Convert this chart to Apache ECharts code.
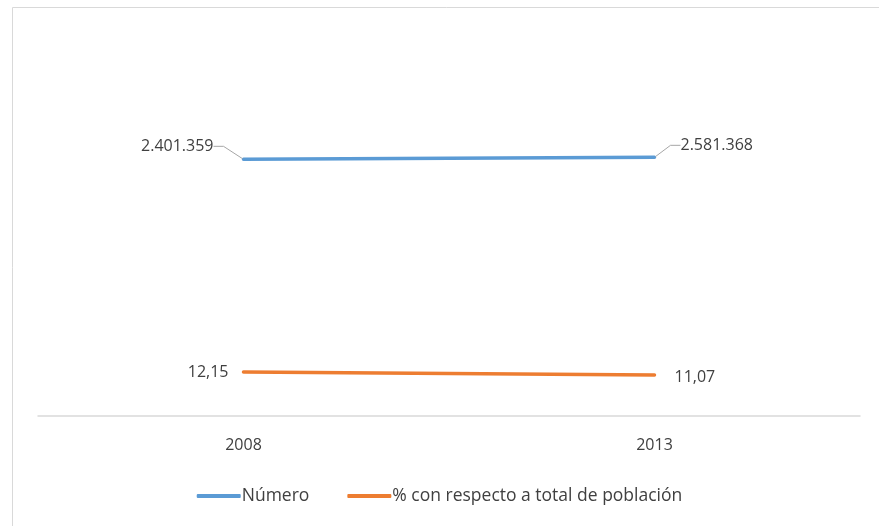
<!DOCTYPE html>
<html>
<head>
<meta charset="utf-8">
<script src="https://cdn.jsdelivr.net/npm/echarts@6/dist/echarts.min.js"></script>
<style>
  html, body { margin: 0; padding: 0; background: #fff; }
  #chart { width: 879px; height: 526px; }
</style>
</head>
<body>
<div id="chart"></div>
<script>
// datos
var years = ['2008', '2013'];
var numero = [2401359, 2581368];
var porcentaje = [12.15, 11.07];

// formato español: miles con punto, decimales con coma
function fmtMiles(v) {
  return String(Math.round(v)).replace(/\B(?=(\d{3})+(?!\d))/g, '.');
}
function fmtDec(v) {
  return v.toFixed(2).replace('.', ',');
}

var txt = '#404040';
var font = 'Open Sans';

var chart = echarts.init(document.getElementById('chart'));

var option = {
  animation: false,
  textStyle: { fontFamily: font, color: txt },
  graphic: [{
    type: 'rect',
    shape: { x: 12.5, y: 7.5, width: 900, height: 600 },
    style: { fill: 'none', stroke: '#d9d9d9', lineWidth: 1 },
    silent: true
  }],
  grid: { left: 38, right: 19, top: 30, bottom: 110 },
  legend: {
    bottom: 16,
    left: 'center',
    itemWidth: 44,
    itemHeight: 4,
    itemGap: 38,
    icon: 'roundRect',
    textStyle: { fontFamily: font, fontSize: 17.5, color: txt, padding: [0, 0, 0, -4] },
    data: ['Número', '% con respecto a total de población']
  },
  xAxis: {
    type: 'category',
    data: years,
    boundaryGap: true,
    axisLine: { onZero: false, lineStyle: { color: '#d9d9d9', width: 1.5 } },
    axisTick: { show: false },
    axisLabel: { color: txt, fontSize: 16, fontFamily: font, margin: 21 }
  },
  yAxis: [{
    type: 'value',
    min: -20700000,
    max: 14040000,
    show: false,
    splitLine: { show: false }
  }, {
    type: 'value',
    min: -3.69,
    max: 135.27,
    show: false,
    splitLine: { show: false }
  }],
  series: [{
    name: 'Número',
    type: 'line',
    yAxisIndex: 0,
    data: numero,
    symbol: 'circle',
    symbolSize: 2,
    showSymbol: true,
    color: '#5B9BD5',
    lineStyle: { width: 3.5, cap: 'round' },
    label: {
      show: true,
      position: 'left',
      distance: 29,
      fontSize: 16,
      fontFamily: font,
      color: txt,
      formatter: function (p) { return fmtMiles(p.value); }
    },
    labelLine: { show: true, length2: 10, lineStyle: { color: '#a6a6a6', width: 1 } },
    labelLayout: function (p) {
      if (p.dataIndex === 0) {
        return { dx: 0, dy: -13 };
      }
      return { dx: p.labelRect.width + 56, dy: -12 };
    },
    emphasis: { disabled: true }
  }, {
    name: '% con respecto a total de población',
    type: 'line',
    yAxisIndex: 1,
    symbol: 'circle',
    symbolSize: 2,
    showSymbol: true,
    color: '#ED7D31',
    lineStyle: { width: 3.5, cap: 'round' },
    label: {
      show: true,
      fontSize: 16,
      fontFamily: font,
      color: txt,
      formatter: function (p) { return fmtDec(p.value); }
    },
    data: [
      { value: porcentaje[0], label: { position: 'left', distance: 14 } },
      { value: porcentaje[1], label: { position: 'right', distance: 19, offset: [0, 2] } }
    ],
    emphasis: { disabled: true }
  }]
};

chart.setOption(option);
</script>
</body>
</html>
